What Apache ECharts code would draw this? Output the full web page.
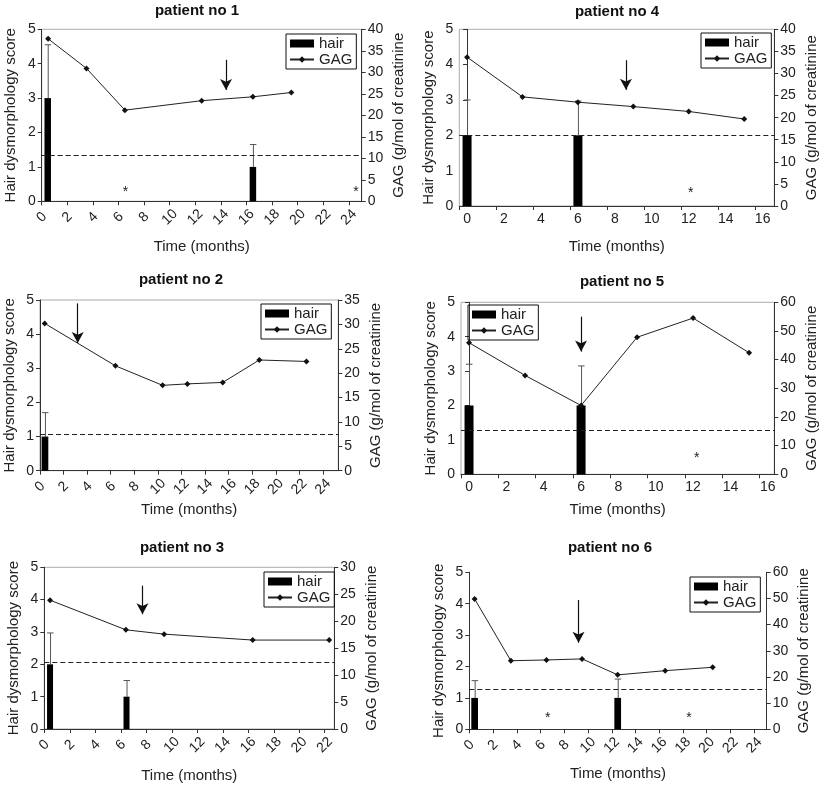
<!DOCTYPE html>
<html>
<head>
<meta charset="utf-8">
<script src="https://cdn.jsdelivr.net/npm/echarts@6/dist/echarts.min.js"></script>
<style>
  html, body { margin: 0; padding: 0; background: #fff; }
  #chart { width: 822px; height: 785px; }
</style>
</head>
<body>
<div id="chart"></div>
<script>
// values, one entry per patient (no 1 .. no 6)
const titles = ['patient no 1', 'patient no 2', 'patient no 3', 'patient no 4', 'patient no 5', 'patient no 6']

const gagTime = [
  [0.5, 3.5, 6.5, 12.5, 16.5, 19.5],
  [0.4, 6.4, 10.4, 12.5, 15.5, 18.6, 22.6],
  [0.45, 6.4, 9.4, 16.35, 22.35],
  [0, 3, 6, 9, 12, 15],
  [0, 3, 6, 9, 12, 15],
  [0.45, 3.5, 6.5, 9.5, 12.5, 16.5, 20.5]
]
const gagValue = [
  [37.8, 30.9, 21.2, 23.4, 24.3, 25.3],
  [30.2, 21.5, 17.5, 17.8, 18.1, 22.7, 22.4],
  [23.9, 18.4, 17.6, 16.5, 16.5],
  [33.7, 24.7, 23.5, 22.5, 21.4, 19.7],
  [45.9, 34.5, 24.0, 47.8, 54.5, 42.4],
  [49.8, 26.2, 26.5, 26.9, 20.8, 22.4, 23.7]
]
const hairTime = [[0.47, 16.5], [0.42], [0.45, 6.45], [0, 6], [0, 6], [0.45, 12.5]]
const hairScore = [[3, 1], [1], [2, 1], [2, 2], [2, 2], [1, 1]]
const hairSdTop = [[4.55, 1.65], [1.7], [2.97, 1.5], [3.0, 2.97], [3.2, 3.15], [1.55, 1.6]]

const gagLimit = [10.8, 7.5, 12.4, 16, 15.2, 15.3]   // dashed reference line
const arrowTime = [14.4, 3.2, 7.7, 8.6, 6.0, 9.2]
const arrowFrom = [32.9, 34.3, 26.6, 33, 55, 49.4]
const arrowTo = [25.9, 26.2, 21.3, 26.3, 42.8, 33.1]
const starTime = [[6.55, 24.55], [], [], [12.1], [12.2], [6.6, 18.5]]
const starLevel = [[2.2, 2.2], [], [], [3.0], [5.6], [4.1, 4.3]]

const gagMax = [40, 35, 30, 40, 60, 60]
const gagStep = [5, 5, 5, 5, 10, 10]
const xMin = [0, 0, 0, -0.42, -0.43, 0]
const xMax = [25, 25.3, 22.75, 16.63, 16.35, 25.05]
const xLabels = [
  [0, 2, 4, 6, 8, 10, 12, 14, 16, 18, 20, 22, 24],
  [0, 2, 4, 6, 8, 10, 12, 14, 16, 18, 20, 22, 24],
  [0, 2, 4, 6, 8, 10, 12, 14, 16, 18, 20, 22],
  [0, 2, 4, 6, 8, 10, 12, 14, 16],
  [0, 2, 4, 6, 8, 10, 12, 14, 16],
  [0, 2, 4, 6, 8, 10, 12, 14, 16, 18, 20, 22, 24]
]
const xTicks = [
  xLabels[0], xLabels[1], xLabels[2],
  [-0.42, 1.58, 3.58, 5.58, 7.58, 9.58, 11.58, 13.58, 15.58],
  [-0.43, 1.57, 3.57, 5.57, 7.57, 9.57, 11.57, 13.57, 15.57],
  xLabels[5]
]

// layout (px): left, top, width, height of each plot area
const boxes = [
  [41.7, 29.3, 320, 172],
  [40, 300, 298.3, 170.7],
  [44.3, 567.3, 290, 161.7],
  [459.3, 29.3, 315, 176.7],
  [461, 302.3, 313.3, 172],
  [469.3, 572.3, 297.4, 157]
]
const titlePos = [[197, 11], [181, 280], [182, 548], [617, 12], [622, 282], [610, 548]]
const legendPos = [[286, 34], [261, 304], [264, 572], [701, 33], [468, 305], [690, 577]]
const rotated = [true, true, true, false, false, true]
const timeGap = [38, 32, 39, 33, 28, 37]
const barWidth = [6.5, 6.7, 6, 9, 9, 6.7]

const FONT = 'Liberation Sans, Arial, Helvetica, sans-serif'
const INK = '#222'
const AXIS = '#333'

const chart = echarts.init(document.getElementById('chart'))

const grid = [], xAxis = [], yAxis = [], series = [], legend = [], graphic = []

titles.forEach((title, i) => {
  const [l, t, w, h] = boxes[i]
  grid.push({
    left: l, top: t, width: w, height: h,
    show: i !== 5, borderColor: '#aaa', borderWidth: 1
  })

  const xLabel = rotated[i]
    ? { rotate: 45, align: 'center', verticalAlign: 'middle', margin: 16 }
    : { rotate: 0, margin: 6 }
  xAxis.push({
    type: 'value', gridIndex: i, min: xMin[i], max: xMax[i],
    name: 'Time (months)', nameLocation: 'middle', nameGap: timeGap[i],
    nameTextStyle: { fontFamily: FONT, fontSize: 15, color: INK },
    axisLine: { lineStyle: { color: AXIS, width: 1 } },
    axisTick: { show: true, length: 4, customValues: xTicks[i], lineStyle: { color: AXIS } },
    axisLabel: Object.assign({
      customValues: xLabels[i], fontFamily: FONT, fontSize: 14, color: INK
    }, xLabel),
    splitLine: { show: false }
  })

  // left: hair score
  yAxis.push({
    type: 'value', gridIndex: i, position: 'left', min: 0, max: 5, interval: 1,
    name: 'Hair dysmorphology score', nameLocation: 'middle', nameGap: 23, nameRotate: 90,
    nameTextStyle: { fontFamily: FONT, fontSize: 15, color: INK },
    axisLine: { show: true, lineStyle: { color: AXIS } },
    axisTick: { show: true, length: 4, lineStyle: { color: AXIS } },
    axisLabel: { margin: 6, fontFamily: FONT, fontSize: 14, color: INK },
    splitLine: { show: false }
  })
  // right: GAG
  yAxis.push({
    type: 'value', gridIndex: i, position: 'right', min: 0, max: gagMax[i], interval: gagStep[i],
    name: 'GAG (g/mol of creatinine', nameLocation: 'middle', nameGap: 30, nameRotate: 90,
    nameTextStyle: { fontFamily: FONT, fontSize: 15, color: INK },
    axisLine: { show: true, lineStyle: { color: AXIS } },
    axisTick: { show: true, length: 4, lineStyle: { color: AXIS } },
    axisLabel: { margin: 6, fontFamily: FONT, fontSize: 14, color: INK },
    splitLine: { show: false }
  })

  const bw = barWidth[i]
  series.push({
    name: 'hair', type: 'custom', xAxisIndex: i, yAxisIndex: 2 * i,
    itemStyle: { color: '#000' },
    data: hairTime[i].map((tm, k) => [tm, hairScore[i][k], hairSdTop[i][k]]),
    renderItem: (params, api) => {
      const base = api.coord([api.value(0), 0])
      const top = api.coord([api.value(0), api.value(1)])
      const err = api.coord([api.value(0), api.value(2)])
      const cx = base[0]
      return {
        type: 'group',
        children: [
          { type: 'line', shape: { x1: cx + 0.5, y1: top[1], x2: cx + 0.5, y2: err[1] }, style: { stroke: '#555', lineWidth: 1 } },
          { type: 'line', shape: { x1: cx - 3, y1: err[1], x2: cx + 3.5, y2: err[1] }, style: { stroke: '#555', lineWidth: 1 } },
          { type: 'rect', shape: { x: cx - bw / 2, y: top[1], width: bw, height: base[1] - top[1] }, style: { fill: '#000' } }
        ]
      }
    }
  })

  series.push({
    name: 'GAG', type: 'line', xAxisIndex: i, yAxisIndex: 2 * i + 1,
    data: gagTime[i].map((tm, k) => [tm, gagValue[i][k]]),
    symbol: 'diamond', symbolSize: 6, showSymbol: true,
    itemStyle: { color: '#111' },
    lineStyle: { color: '#222', width: 1 },
    markLine: {
      silent: true, animation: false, symbol: ['none', 'none'],
      label: { show: false },
      data: [
        { yAxis: gagLimit[i], lineStyle: { type: [5, 3], color: '#222', width: 1 } },
        [
          { coord: [arrowTime[i], arrowFrom[i]], symbol: 'none', lineStyle: { type: 'solid', color: '#111', width: 1.2 } },
          { coord: [arrowTime[i], arrowTo[i]], symbol: 'arrow', symbolSize: [9, 11] }
        ]
      ]
    }
  })

  if (starTime[i].length) {
    series.push({
      name: 'star', type: 'custom', xAxisIndex: i, yAxisIndex: 2 * i + 1,
      data: starTime[i].map((tm, k) => [tm, starLevel[i][k]]),
      renderItem: (params, api) => {
        const c = api.coord([api.value(0), api.value(1)])
        return {
          type: 'text', x: c[0], y: c[1],
          style: { text: '*', fontFamily: FONT, fontSize: 14, fill: INK, align: 'center', verticalAlign: 'middle' }
        }
      }
    })
  }

  legend.push({
    left: legendPos[i][0], top: legendPos[i][1],
    orient: 'vertical', align: 'left',
    borderColor: '#111', borderWidth: 1, padding: [2, 4, 2, 3], itemGap: 1,
    itemWidth: 24, itemHeight: 8,
    textStyle: { fontFamily: FONT, fontSize: 15, color: INK, lineHeight: 14 },
    selectedMode: false,
    data: [{ name: 'hair', icon: 'rect' }, { name: 'GAG' }]
  })

  graphic.push({
    type: 'text', x: titlePos[i][0], y: titlePos[i][1],
    style: { text: title, fontFamily: FONT, fontSize: 15, fontWeight: 'bold', fill: '#111', align: 'center', verticalAlign: 'middle' }
  })
})

chart.setOption({
  animation: false,
  backgroundColor: '#fff',
  grid, xAxis, yAxis, series, legend, graphic
})
</script>
</body>
</html>
